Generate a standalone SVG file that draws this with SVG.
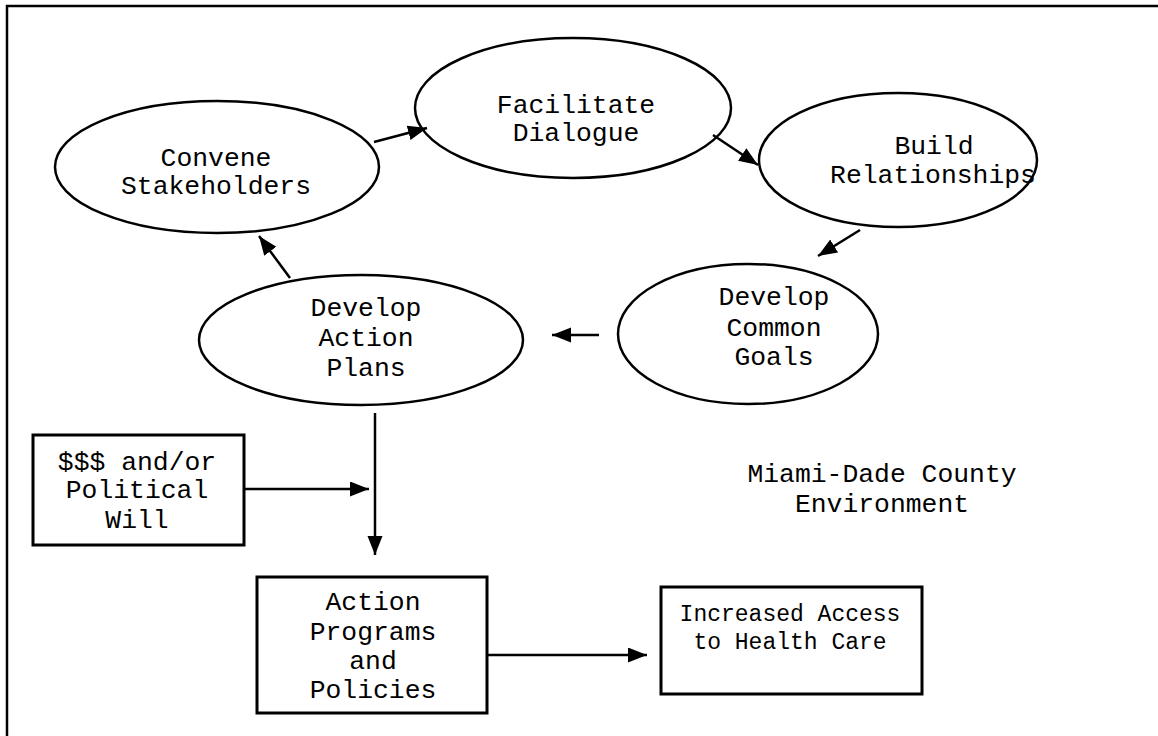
<svg xmlns="http://www.w3.org/2000/svg" width="1158" height="736" viewBox="0 0 1158 736">
<style>
.shape{fill:#fff;stroke:#000;stroke-width:2.5}
.box{fill:#fff;stroke:#000;stroke-width:3}
.t{font-family:"Liberation Mono","Courier New",monospace;font-size:26.4px;fill:#000;text-anchor:middle}
.s{font-size:23px}
.c{fill:none;stroke:#000;stroke-width:2.5}
</style>
<defs>
<marker id="ah" markerUnits="userSpaceOnUse" markerWidth="20" markerHeight="16" refX="19" refY="7.5" orient="auto">
<path d="M0,0 L19,7.5 L0,15 z" fill="#000"/>
</marker>
</defs>
<rect x="7" y="6" width="1200" height="800" fill="#fff" stroke="#000" stroke-width="2.5"/>
<g id="convene">
<ellipse class="shape" cx="217" cy="167" rx="162" ry="66"/>
<text class="t" x="216" y="166">Convene</text>
<text class="t" x="216" y="194">Stakeholders</text>
</g>
<g id="facilitate">
<ellipse class="shape" cx="573" cy="108" rx="158" ry="70"/>
<text class="t" x="576" y="113">Facilitate</text>
<text class="t" x="576" y="141">Dialogue</text>
</g>
<g id="build">
<ellipse class="shape" cx="898" cy="160" rx="139" ry="67"/>
<text class="t" x="934" y="154">Build</text>
<text class="t" x="933" y="183">Relationships</text>
</g>
<g id="goals">
<ellipse class="shape" cx="748" cy="334" rx="130" ry="70"/>
<text class="t" x="774" y="305">Develop</text>
<text class="t" x="774" y="336">Common</text>
<text class="t" x="774" y="365">Goals</text>
</g>
<g id="plans">
<ellipse class="shape" cx="361" cy="340" rx="162" ry="65"/>
<text class="t" x="366" y="316">Develop</text>
<text class="t" x="366" y="346">Action</text>
<text class="t" x="366" y="376">Plans</text>
</g>
<g id="money">
<rect class="box" x="33" y="435" width="211" height="110"/>
<text class="t" x="137" y="470">$$$ and/or</text>
<text class="t" x="137" y="498">Political</text>
<text class="t" x="137" y="528">Will</text>
</g>
<g id="programs">
<rect class="box" x="257" y="577" width="230" height="136"/>
<text class="t" x="373" y="610">Action</text>
<text class="t" x="373" y="640">Programs</text>
<text class="t" x="373" y="669">and</text>
<text class="t" x="373" y="698">Policies</text>
</g>
<g id="access">
<rect class="box" x="661" y="587" width="261" height="107"/>
<text class="t s" x="790" y="621">Increased Access</text>
<text class="t s" x="790" y="649">to Health Care</text>
</g>
<g id="environment">
<text class="t" x="882" y="482">Miami-Dade County</text>
<text class="t" x="882" y="512">Environment</text>
</g>
<g id="connectors">
<line class="c" x1="374" y1="142" x2="427" y2="128" marker-end="url(#ah)"/>
<line class="c" x1="713" y1="135" x2="758" y2="165" marker-end="url(#ah)"/>
<line class="c" x1="860" y1="230" x2="818" y2="256" marker-end="url(#ah)"/>
<line class="c" x1="599" y1="335" x2="552" y2="335" marker-end="url(#ah)"/>
<line class="c" x1="290" y1="278" x2="259" y2="236" marker-end="url(#ah)"/>
<line class="c" x1="375" y1="413" x2="375" y2="555" marker-end="url(#ah)"/>
<line class="c" x1="244" y1="489" x2="369" y2="489" marker-end="url(#ah)"/>
<line class="c" x1="487" y1="655" x2="647" y2="655" marker-end="url(#ah)"/>
</g>
</svg>
